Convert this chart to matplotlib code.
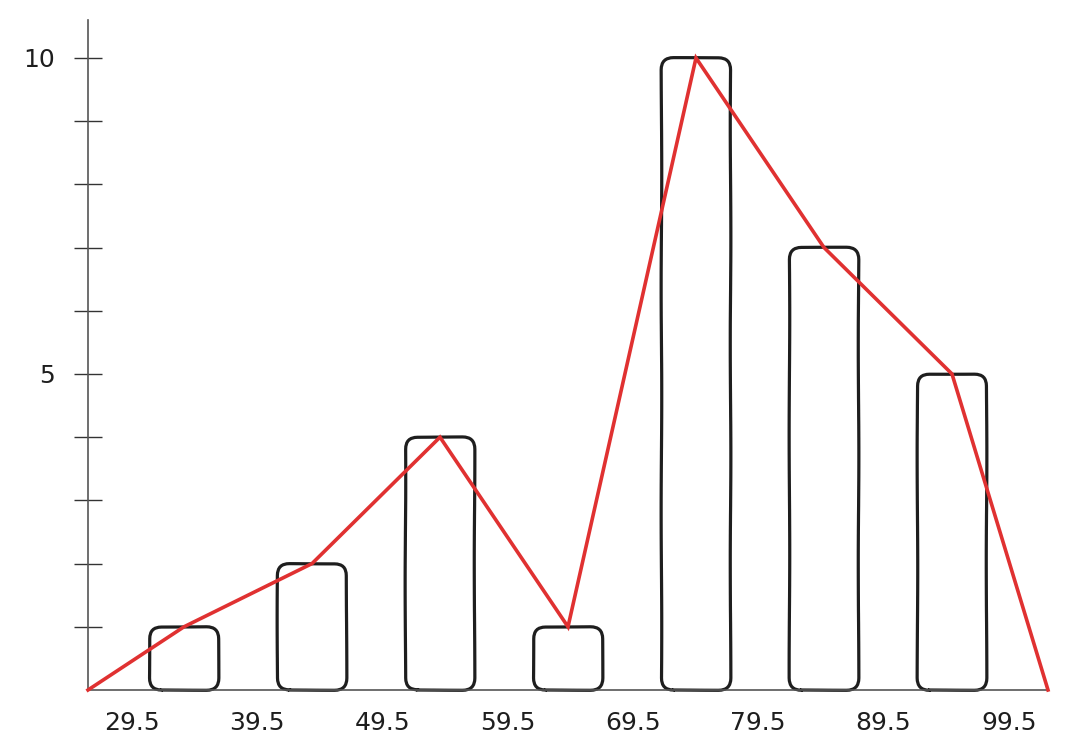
import numpy as np
import matplotlib
matplotlib.use("Agg")
import matplotlib.pyplot as plt
from matplotlib.patches import FancyBboxPatch

# ---- data ----
boundaries = ["29.5", "39.5", "49.5", "59.5", "69.5", "79.5", "89.5", "99.5"]
frequencies = [1, 2, 4, 1, 10, 7, 5]
ytick_values = list(range(1, 11))
ytick_labels = ["", "", "", "", "5", "", "", "", "", "10"]

plt.rcParams['font.family'] = ['DejaVu Sans']

W, H = 1082, 747
fig = plt.figure(figsize=(W / 100, H / 100), dpi=100)
ax = fig.add_axes([88 / W, (H - 690) / H, (1048 - 88) / W, (690 - 20) / H])

n = len(frequencies)
xpos = np.arange(n)
xmin, xmax = -0.75, n - 0.25
ax.set_xlim(xmin, xmax)
ax.set_ylim(0, 10.6)

# pixel scale for rounding aspect
p0 = ax.transData.transform((0, 0))
p1 = ax.transData.transform((1, 1))
px_x = p1[0] - p0[0]
px_y = p1[1] - p0[1]
aspect = px_x / px_y

bar_w = 0.54
r = 12 / px_x
for x, h in zip(xpos, frequencies):
    patch = FancyBboxPatch((x - bar_w / 2, 0), bar_w, h,
                           boxstyle=f"round,pad=0,rounding_size={r}",
                           mutation_aspect=aspect,
                           facecolor="none", edgecolor="#1e1e1e",
                           linewidth=2.3, clip_on=False, zorder=2)
    patch.set_sketch_params(0.3, 250, 2)
    ax.add_patch(patch)

# frequency polygon
poly_x = np.concatenate(([xmin], xpos, [xmax]))
poly_y = np.concatenate(([0], frequencies, [0]))
ax.plot(poly_x, poly_y, color="#e03131", linewidth=2.6, clip_on=False,
        zorder=3, solid_joinstyle="miter")

# spines
for s in ["top", "right"]:
    ax.spines[s].set_visible(False)
for s in ["left", "bottom"]:
    ax.spines[s].set_color("#555555")
    ax.spines[s].set_linewidth(1.2)

# y ticks
ax.set_yticks(ytick_values)
ax.set_yticklabels(ytick_labels)
ax.tick_params(axis="y", direction="inout", length=20, width=1.0,
               color="#333333", pad=14, labelsize=18, labelcolor="#1e1e1e")

# x labels at class boundaries
label_pos = -0.41 + 0.979 * np.arange(len(boundaries))
ax.set_xticks(label_pos)
ax.set_xticklabels(boundaries)
ax.tick_params(axis="x", length=0, pad=15, labelsize=18, labelcolor="#1e1e1e")

fig.savefig("out.png", dpi=100)
